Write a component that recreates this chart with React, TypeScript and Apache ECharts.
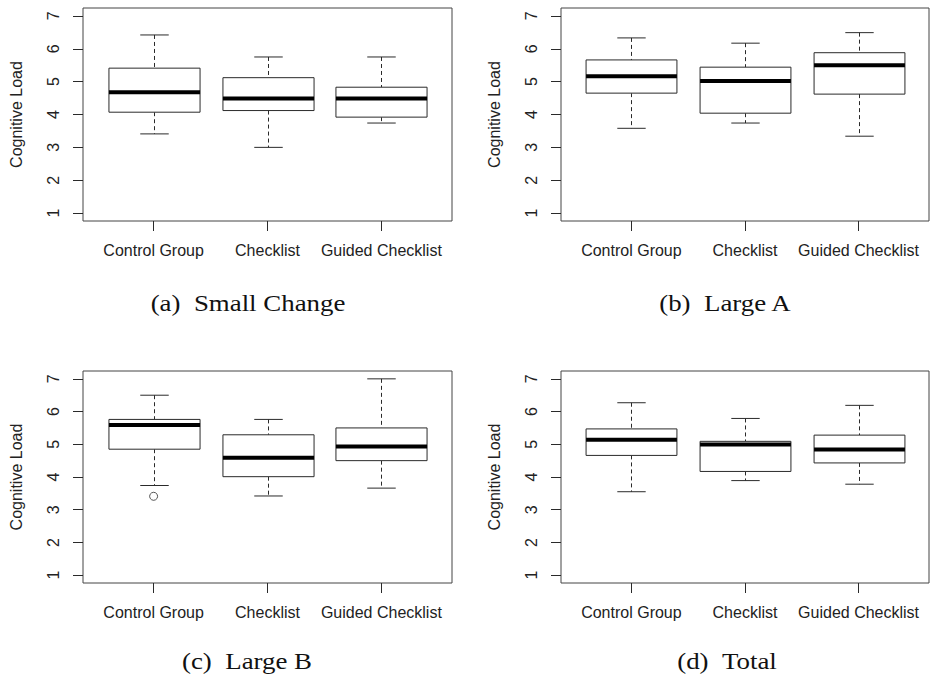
import React, { useEffect, useRef } from 'react';
import * as echarts from 'echarts';

const categories = ['Control Group', 'Checklist', 'Guided Checklist'];
const xTickValues = [1, 2, 3];
const yTickValues = [1, 2, 3, 4, 5, 6, 7];

// each row: [lower whisker, Q1, median, Q3, upper whisker]
const smallChangeStats = [
  [3.41, 4.07, 4.68, 5.41, 6.42],
  [3.0, 4.12, 4.49, 5.12, 5.75],
  [3.74, 3.92, 4.49, 4.83, 5.75],
];
const largeAStats = [
  [3.58, 4.65, 5.16, 5.66, 6.33],
  [3.74, 4.04, 5.02, 5.44, 6.17],
  [3.34, 4.62, 5.5, 5.88, 6.49],
];
const largeBStats = [
  [3.74, 4.85, 5.59, 5.76, 6.5],
  [3.42, 4.01, 4.59, 5.29, 5.76],
  [3.66, 4.5, 4.93, 5.5, 7.0],
];
const totalStats = [
  [3.55, 4.66, 5.14, 5.47, 6.27],
  [3.89, 4.17, 4.99, 5.09, 5.79],
  [3.78, 4.43, 4.84, 5.28, 6.19],
];
// [category position, value]
const smallChangeOutliers: number[][] = [];
const largeAOutliers: number[][] = [];
const largeBOutliers = [[1, 3.41]];
const totalOutliers: number[][] = [];

const captions = ['(a)\u2002Small Change', '(b)\u2002Large A', '(c)\u2002Large B', '(d)\u2002Total'];

const panels = [
  { stats: smallChangeStats, outliers: smallChangeOutliers },
  { stats: largeAStats, outliers: largeAOutliers },
  { stats: largeBStats, outliers: largeBOutliers },
  { stats: totalStats, outliers: totalOutliers },
];

const gridBoxes = [
  { left: 83, top: 8, width: 369, height: 213 },
  { left: 561, top: 8, width: 368, height: 213 },
  { left: 83, top: 371, width: 369, height: 212 },
  { left: 561, top: 371, width: 368, height: 212 },
];
const captionPos = [
  { x: 248, y: 303 },
  { x: 725, y: 303 },
  { x: 247, y: 661 },
  { x: 727, y: 661 },
];

const LINE = '#2a2a2a';
const TEXT = '#222';
const SANS = '"Liberation Sans", Arial, Helvetica, sans-serif';

export default function App() {
  const ref = useRef<HTMLDivElement>(null);
  useEffect(() => {
    if (!ref.current) return;
    const chart = echarts.init(ref.current, null, { renderer: 'svg' });

    const renderBox = (params: any, api: any) => {
      const x = api.value(0);
      const lo = api.value(1);
      const q1 = api.value(2);
      const med = api.value(3);
      const q3 = api.value(4);
      const hi = api.value(5);
      const unit = api.size([1, 0])[0];
      const halfBox = unit * 0.4;
      const halfCap = unit * 0.125;
      const pLo = api.coord([x, lo]);
      const pQ1 = api.coord([x, q1]);
      const pMed = api.coord([x, med]);
      const pQ3 = api.coord([x, q3]);
      const pHi = api.coord([x, hi]);
      const cx = Math.round(pLo[0]) + 0.5;
      const dash = { stroke: LINE, lineWidth: 1, lineDash: [4, 3], fill: null };
      const solid = { stroke: LINE, lineWidth: 1, fill: null };
      return {
        type: 'group',
        children: [
          { type: 'line', shape: { x1: cx, y1: pHi[1], x2: cx, y2: pQ3[1] }, style: dash },
          { type: 'line', shape: { x1: cx, y1: pQ1[1], x2: cx, y2: pLo[1] }, style: dash },
          { type: 'line', shape: { x1: cx - halfCap, y1: pHi[1], x2: cx + halfCap, y2: pHi[1] }, style: solid },
          { type: 'line', shape: { x1: cx - halfCap, y1: pLo[1], x2: cx + halfCap, y2: pLo[1] }, style: solid },
          {
            type: 'rect',
            shape: { x: cx - halfBox, y: pQ3[1], width: halfBox * 2, height: pQ1[1] - pQ3[1] },
            style: { fill: '#fff', stroke: LINE, lineWidth: 1 },
          },
          {
            type: 'line',
            shape: { x1: cx - halfBox, y1: pMed[1], x2: cx + halfBox, y2: pMed[1] },
            style: { stroke: '#000', lineWidth: 4 },
          },
        ],
      };
    };

    const grid = gridBoxes.map((g) => ({
      ...g,
      show: true,
      borderColor: '#444',
      borderWidth: 1,
      backgroundColor: 'transparent',
      containLabel: false,
    }));

    const xAxis = gridBoxes.map((_, i) => ({
      type: 'value',
      gridIndex: i,
      min: 0.38,
      max: 3.62,
      axisLine: { show: false },
      splitLine: { show: false },
      axisTick: { show: true, inside: false, length: 10, customValues: xTickValues, lineStyle: { color: LINE, width: 1 } },
      axisLabel: {
        show: true,
        customValues: xTickValues,
        margin: 21,
        fontSize: 16,
        color: TEXT,
        fontFamily: SANS,
        formatter: (v: number) => categories[Math.round(v) - 1] ?? '',
      },
    }));

    const yAxis = gridBoxes.map((_, i) => ({
      type: 'value',
      gridIndex: i,
      min: 0.76,
      max: 7.24,
      name: 'Cognitive Load',
      nameLocation: 'middle',
      nameRotate: 90,
      nameGap: 59,
      nameTextStyle: { fontSize: 16, color: TEXT, fontFamily: SANS },
      axisLine: { show: false },
      splitLine: { show: false },
      axisTick: { show: true, inside: false, length: 10, customValues: yTickValues, lineStyle: { color: LINE, width: 1 } },
      axisLabel: {
        show: true,
        customValues: yTickValues,
        rotate: 90,
        margin: 22,
        fontSize: 16,
        color: TEXT,
        fontFamily: SANS,
      },
    }));

    const series: any[] = [];
    panels.forEach((p, i) => {
      series.push({
        type: 'custom',
        xAxisIndex: i,
        yAxisIndex: i,
        renderItem: renderBox,
        encode: { x: 0, y: [1, 2, 3, 4, 5] },
        data: p.stats.map((s, k) => [k + 1, ...s]),
        clip: false,
      });
      series.push({
        type: 'scatter',
        xAxisIndex: i,
        yAxisIndex: i,
        symbol: 'circle',
        symbolSize: 8,
        itemStyle: { color: '#fff', borderColor: LINE, borderWidth: 1 },
        data: p.outliers,
      });
    });

    const graphic = captions.map((t, i) => ({
      type: 'text',
      x: captionPos[i].x,
      y: captionPos[i].y,
      scaleX: 1.12,
      style: {
        text: t,
        font: '24px "Liberation Serif", "Times New Roman", serif',
        fill: '#111',
        textAlign: 'center',
        textVerticalAlign: 'middle',
      },
    }));

    chart.setOption({
      animation: false,
      backgroundColor: '#fff',
      grid,
      xAxis,
      yAxis,
      series,
      graphic,
    });
    return () => chart.dispose();
  }, []);
  return <div ref={ref} style={{ position: 'fixed', left: 0, top: 0, width: 930, height: 675 }} />;
}
